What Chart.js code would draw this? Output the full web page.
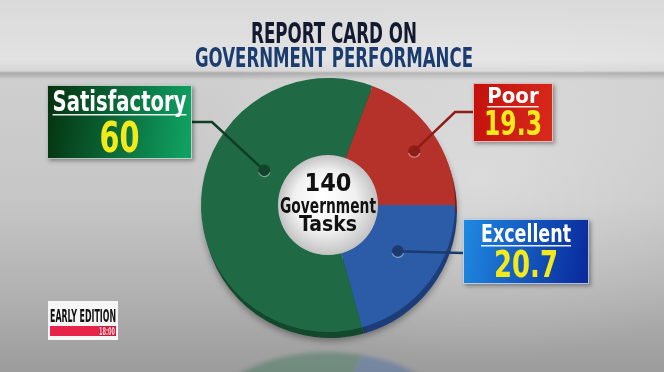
<!DOCTYPE html>
<html>
<head>
<meta charset="utf-8">
<script src="https://cdn.jsdelivr.net/npm/chart.js@4.4.1/dist/chart.umd.min.js"></script>
<style>
  html, body { margin: 0; padding: 0; }
  body {
    width: 664px; height: 372px; overflow: hidden;
    background:
      radial-gradient(ellipse 420px 260px at 72% 48%, rgba(255,255,255,0.35), rgba(255,255,255,0) 70%),
      linear-gradient(180deg, #dadada 0, #e2e2e2 60px, #d6d6d6 71px, #a9a9a9 73px, #cfcfcf 80px, #c6c6c6 200px, #b0b0b0 300px, #9c9c9c 372px);
  }
  #wrap { position: relative; width: 664px; height: 372px; }
  canvas { position: absolute; left: 0; top: 0; }
</style>
</head>
<body>
<div id="wrap"><canvas id="chart" width="664" height="372"></canvas></div>
<script>
// data
const categories = ['Poor', 'Excellent', 'Satisfactory'];
const shares = [19.3, 20.7, 60];
const valueLabels = ['19.3', '20.7', '60'];
const titleLines = ['REPORT CARD ON', 'GOVERNMENT PERFORMANCE'];
const centerLines = ['140', 'Government', 'Tasks'];
const logoLines = ['EARLY EDITION', '18:00'];

const sliceColors = ['#b4322a', '#2c5ca8', '#1f6a45'];
const rimColors = ['#7a1e18', '#1c3d78', '#12482c'];

const FONT = '"Liberation Sans Narrow", "DejaVu Sans Condensed", "Liberation Sans", sans-serif';

// callout boxes, placed by hand like the TV graphic (index matches categories)
const callouts = [
  { box: [473, 83, 80, 59], from: [473, 112], elbow: [455, 112], t: 0.54, rf: 0.8,
    grad: ['#c3100c', '#d8281a'], line: '#8e1d17', dot: '#8e1d17',
    lab: [22, 103, 60], val: [34, 135, 58] },
  { box: [463, 219, 126, 65], from: [463, 253], elbow: null, t: 0.45, rf: 0.66,
    grad: ['#1f8ae2', '#0a2c9e'], line: '#1d3a70', dot: '#1d3a70',
    lab: [25, 242, 90], val: [38, 277, 64] },
  { box: [47, 85, 145, 74], from: [192, 122], elbow: [212, 122], t: 0.62, rf: 0.57,
    grad: ['#05300e', '#0fa062'], line: '#0f3d26', dot: '#12432b',
    lab: [28, 111, 134], val: [42, 152, 40] }
];

function fitText(ctx, s, x, y, size, color, maxW) {
  ctx.font = 'bold ' + size + 'px ' + FONT;
  const w = ctx.measureText(s).width;
  const k = maxW && w > maxW ? maxW / w : 1;
  ctx.save();
  ctx.translate(x, y);
  ctx.scale(k, 1);
  ctx.fillStyle = color;
  ctx.textAlign = 'center';
  ctx.textBaseline = 'alphabetic';
  ctx.fillText(s, 0, 0);
  ctx.restore();
  return w * k;
}

function sector(ctx, a, dx, dy) {
  ctx.beginPath();
  ctx.arc(a.x + dx, a.y + dy, a.outerRadius, a.startAngle, a.endAngle);
  ctx.arc(a.x + dx, a.y + dy, a.innerRadius, a.endAngle, a.startAngle, true);
  ctx.closePath();
}

const decor = {
  id: 'decor',
  beforeDatasetsDraw(chart) {
    const ctx = chart.ctx;
    const arcs = chart.getDatasetMeta(0).data;
    // 3D rim under the top face
    arcs.forEach((a, i) => {
      ctx.save();
      ctx.shadowColor = 'rgba(0,0,0,0.35)';
      ctx.shadowBlur = 6;
      ctx.shadowOffsetY = 3;
      ctx.fillStyle = rimColors[i];
      sector(ctx, a, 2, 6);
      ctx.fill();
      ctx.restore();
    });
    // faint floor reflection (pie mirrored below its bottom edge)
    ctx.save();
    ctx.beginPath();
    ctx.rect(0, 346, 664, 26);
    ctx.clip();
    ctx.globalAlpha = 0.35;
    ctx.filter = 'blur(2px)';
    ctx.translate(0, 551.4);
    ctx.scale(1, -0.6);
    arcs.forEach((a, i) => {
      ctx.fillStyle = sliceColors[i];
      sector(ctx, a, 0, 0);
      ctx.fill();
    });
    ctx.restore();
  },
  afterDatasetsDraw(chart) {
    const ctx = chart.ctx;
    const arcs = chart.getDatasetMeta(0).data;
    const c = arcs[0];

    // hole in the middle
    const g = ctx.createRadialGradient(c.x - 8, c.y - 10, 4, c.x, c.y, c.innerRadius);
    g.addColorStop(0, '#ffffff');
    g.addColorStop(0.6, '#f0f0f0');
    g.addColorStop(1, '#c4c4c4');
    ctx.save();
    ctx.beginPath();
    ctx.arc(c.x, c.y, c.innerRadius + 0.5, 0, Math.PI * 2);
    ctx.fillStyle = g;
    ctx.fill();
    ctx.restore();
    fitText(ctx, centerLines[0], c.x, c.y - 14, 25, '#111', 60);
    fitText(ctx, centerLines[1], c.x, c.y + 8, 21, '#111', 96);
    fitText(ctx, centerLines[2], c.x, c.y + 26, 21, '#111', 60);

    // title
    fitText(ctx, titleLines[0], 334, 43, 28, '#131a30', 166);
    fitText(ctx, titleLines[1], 334, 67, 27, '#1b3c6e', 278);

    // callouts
    callouts.forEach((o, i) => {
      const a = arcs[i];
      const ang = a.startAngle + o.t * (a.endAngle - a.startAngle);
      const r = a.outerRadius * o.rf;
      const px = a.x + Math.cos(ang) * r, py = a.y + Math.sin(ang) * r;

      ctx.save();
      ctx.strokeStyle = o.line;
      ctx.lineWidth = 2.5;
      ctx.beginPath();
      ctx.moveTo(o.from[0], o.from[1]);
      if (o.elbow) ctx.lineTo(o.elbow[0], o.elbow[1]);
      ctx.lineTo(px, py);
      ctx.stroke();
      ctx.beginPath();
      ctx.arc(px, py, 6, 0, Math.PI * 2);
      ctx.fillStyle = o.dot;
      ctx.fill();
      ctx.beginPath();
      ctx.arc(px, py, 6, 0.1 * Math.PI, 0.9 * Math.PI);
      ctx.strokeStyle = 'rgba(255,255,255,0.45)';
      ctx.lineWidth = 1.2;
      ctx.stroke();
      ctx.restore();

      const [bx, by, bw, bh] = o.box;
      ctx.save();
      ctx.shadowColor = 'rgba(0,0,0,0.35)';
      ctx.shadowBlur = 4;
      ctx.shadowOffsetX = 2;
      ctx.shadowOffsetY = 2;
      const bg = ctx.createLinearGradient(bx, by, bx + bw, by + bh * 0.3);
      bg.addColorStop(0, o.grad[0]);
      bg.addColorStop(1, o.grad[1]);
      ctx.fillStyle = bg;
      ctx.fillRect(bx, by, bw, bh);
      ctx.restore();
      ctx.strokeStyle = 'rgba(225,225,225,0.8)';
      ctx.lineWidth = 1;
      ctx.strokeRect(bx + 0.5, by + 0.5, bw - 1, bh - 1);

      const cx = bx + bw / 2;
      const lw = fitText(ctx, categories[i], cx, o.lab[1], o.lab[0], '#ffffff', o.lab[2]);
      ctx.fillStyle = 'rgba(255,255,255,0.9)';
      ctx.fillRect(cx - lw / 2, o.lab[1] + 3, lw, 1.5);
      fitText(ctx, valueLabels[i], cx, o.val[1], o.val[0], '#f3ea1c', o.val[2]);
    });

    // programme logo
    ctx.save();
    ctx.fillStyle = '#f6f6f6';
    ctx.fillRect(48, 301, 70, 39);
    ctx.fillStyle = '#e8234a';
    ctx.fillRect(50, 326, 66, 10);
    ctx.fillStyle = '#c81a3a';
    ctx.fillRect(99, 326, 17, 10);
    ctx.restore();
    fitText(ctx, logoLines[0], 83, 322, 17, '#111', 66);
    fitText(ctx, logoLines[1], 107, 335, 10, '#ffd0d8', 16);
  }
};

new Chart(document.getElementById('chart').getContext('2d'), {
  type: 'doughnut',
  data: {
    labels: categories,
    datasets: [{
      data: shares,
      backgroundColor: sliceColors,
      borderWidth: 0,
      hoverOffset: 0
    }]
  },
  options: {
    responsive: false,
    animation: false,
    rotation: 20.5,
    cutout: '39%',
    layout: { padding: { left: 201, right: 209, top: 78, bottom: 40 } },
    plugins: {
      legend: { display: false },
      tooltip: { enabled: false }
    }
  },
  plugins: [decor]
});
</script>
</body>
</html>
